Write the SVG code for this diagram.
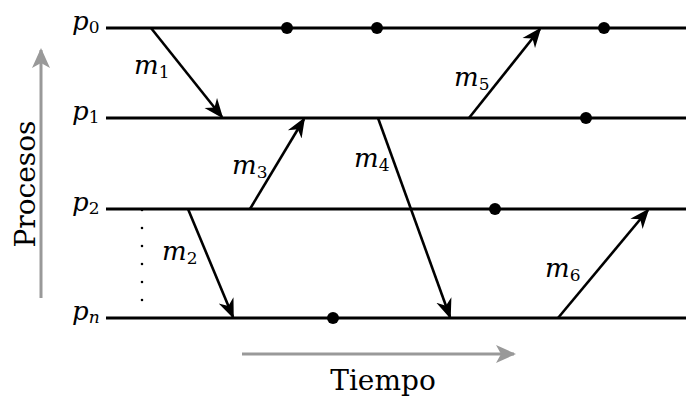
<svg xmlns="http://www.w3.org/2000/svg" width="686" height="396" viewBox="0 0 686 396">
<style>
.proc{stroke:#000;stroke-width:3;fill:none}
.msg{stroke:#000;stroke-width:2.6;fill:none;marker-end:url(#ah)}
.ev{fill:#000}
.axis{stroke:#999;stroke-width:3;fill:none}
text{font-family:"DejaVu Serif","Liberation Serif",serif;fill:#000}
.lbl{font-size:28px}
.it{font-style:italic;font-size:26px}
.sub{font-size:17px;font-style:normal}
.subi{font-size:17px;font-style:italic}
</style>
<defs>
<marker id="ah" markerWidth="22" markerHeight="18" refX="18" refY="9" orient="auto" markerUnits="userSpaceOnUse">
<path d="M0,1 L20,9 L0,17 L6,9 Z" fill="#000"/>
</marker>
<marker id="ga" markerWidth="22" markerHeight="18" refX="18" refY="9" orient="auto" markerUnits="userSpaceOnUse">
<path d="M0,0 L20,9 L0,18 L5,9 Z" fill="#999"/>
</marker>
</defs>
<g id="axes">
<line class="axis" x1="41" y1="298" x2="41" y2="50" marker-end="url(#ga)"/>
<text class="lbl" transform="translate(35,184) rotate(-90)" text-anchor="middle">Procesos</text>
<line class="axis" x1="242" y1="354" x2="514" y2="354" marker-end="url(#ga)"/>
<text class="lbl" x="383" y="390" text-anchor="middle">Tiempo</text>
</g>
<g id="p0">
<line class="proc" x1="106" y1="28" x2="686" y2="28"/>
<text class="it" x="72" y="30">p<tspan class="sub" dy="3">0</tspan></text>
<circle class="ev" cx="287" cy="28" r="6"/>
<circle class="ev" cx="377" cy="28" r="6"/>
<circle class="ev" cx="604" cy="28" r="6"/>
</g>
<g id="p1">
<line class="proc" x1="106" y1="118" x2="686" y2="118"/>
<text class="it" x="72" y="120">p<tspan class="sub" dy="3">1</tspan></text>
<circle class="ev" cx="586" cy="118" r="6"/>
</g>
<g id="p2">
<line class="proc" x1="106" y1="209" x2="686" y2="209"/>
<text class="it" x="72" y="211">p<tspan class="sub" dy="3">2</tspan></text>
<circle class="ev" cx="495" cy="209" r="6"/>
</g>
<g id="pn">
<line class="proc" x1="106" y1="318" x2="686" y2="318"/>
<text class="it" x="72" y="320">p<tspan class="subi" dy="3">n</tspan></text>
<circle class="ev" cx="333" cy="318" r="6"/>
</g>
<g id="dots">
<line x1="142" y1="210" x2="142" y2="318" stroke="#000" stroke-width="2.6" stroke-linecap="round" stroke-dasharray="0 18"/>
</g>
<g id="connectors">
<line class="msg" x1="151" y1="28" x2="222" y2="117"/>
<line class="msg" x1="188" y1="209" x2="233" y2="317"/>
<line class="msg" x1="250" y1="209" x2="304" y2="119"/>
<line class="msg" x1="378" y1="118" x2="450" y2="317"/>
<line class="msg" x1="469" y1="118" x2="540" y2="29"/>
<line class="msg" x1="558" y1="318" x2="648" y2="210"/>
</g>
<g id="labels">
<text class="it" x="134" y="74">m<tspan class="sub" dy="4">1</tspan></text>
<text class="it" x="162" y="260">m<tspan class="sub" dy="4">2</tspan></text>
<text class="it" x="232" y="174">m<tspan class="sub" dy="4">3</tspan></text>
<text class="it" x="354" y="167">m<tspan class="sub" dy="4">4</tspan></text>
<text class="it" x="454" y="86">m<tspan class="sub" dy="4">5</tspan></text>
<text class="it" x="545" y="277">m<tspan class="sub" dy="4">6</tspan></text>
</g>
</svg>
